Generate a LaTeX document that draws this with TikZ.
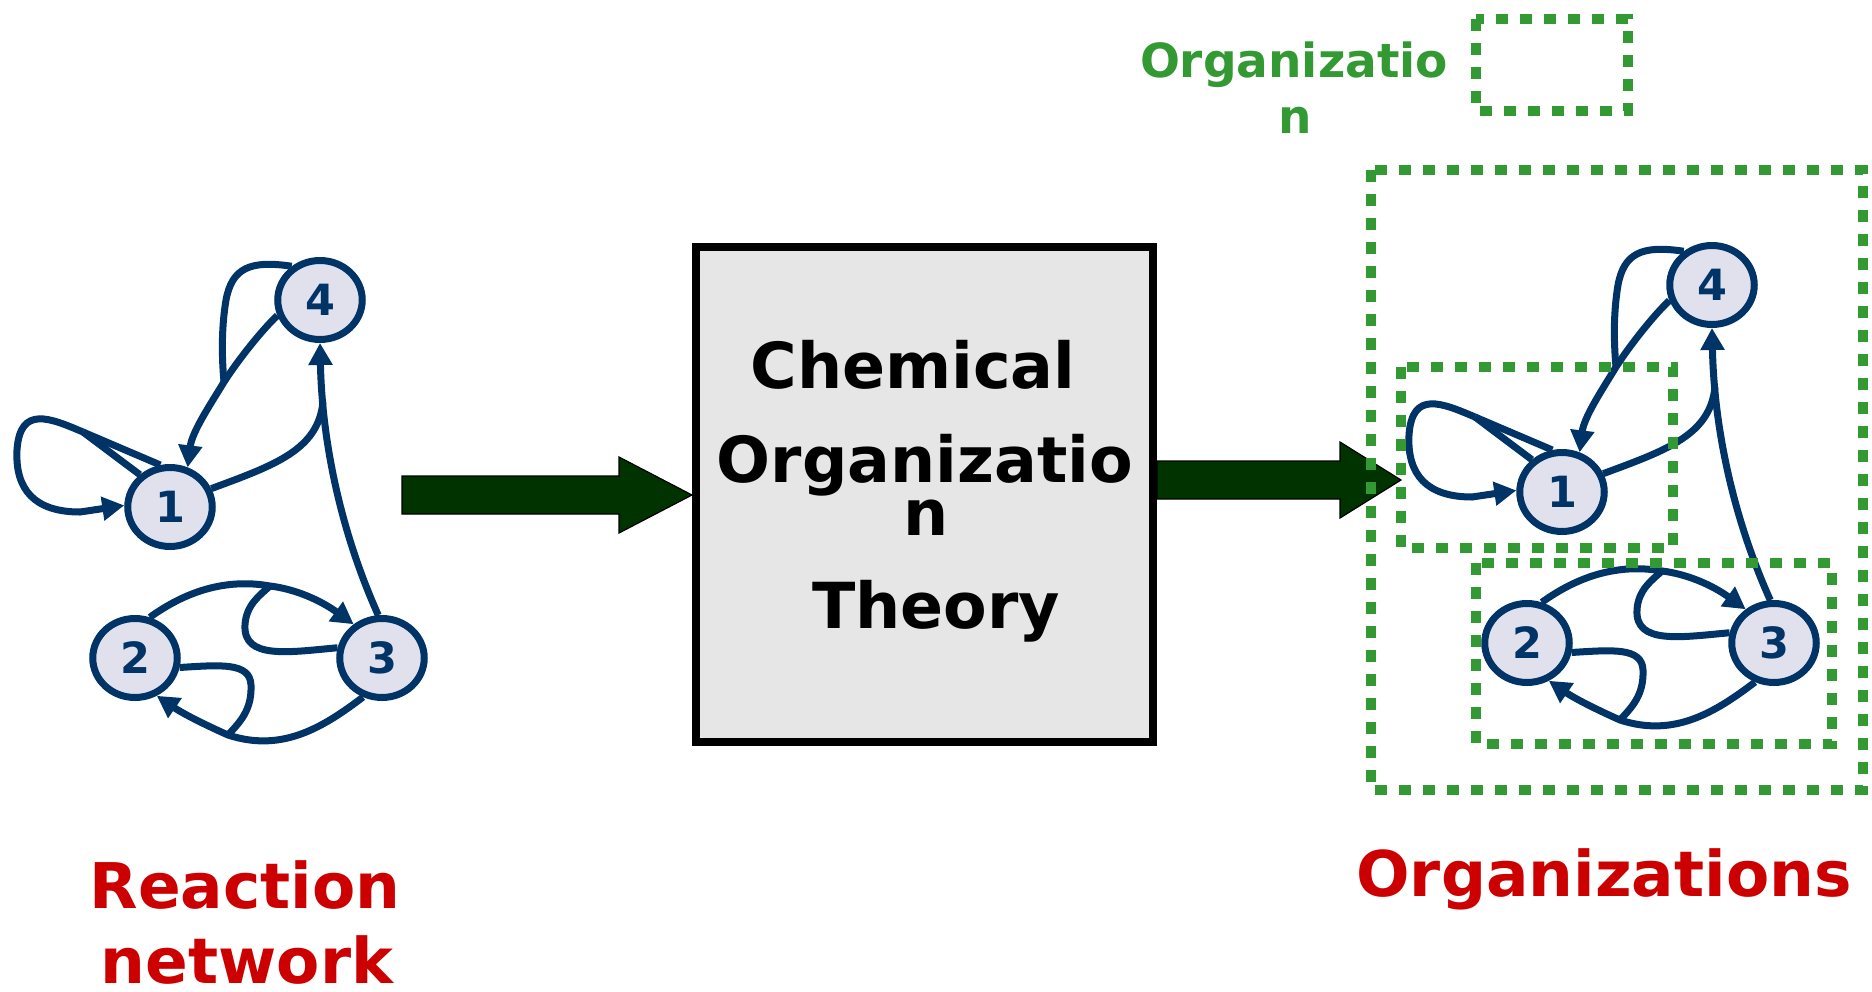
\documentclass[tikz,border=0pt]{standalone}
\usepackage{fontspec}
\setmainfont{DejaVu Sans}
\usetikzlibrary{shapes.geometric,arrows.meta}
\definecolor{netblue}{HTML}{003366}
\definecolor{nodefill}{HTML}{E1E1ED}
\definecolor{orggreen}{HTML}{339933}
\definecolor{arrowgreen}{HTML}{003300}
\definecolor{boxgray}{HTML}{E6E6E6}
\definecolor{titlered}{HTML}{CC0000}
\tikzset{
  species/.style={ellipse, draw=netblue, fill=nodefill, line width=7pt,
    minimum width=84.5pt, minimum height=79pt, inner sep=0pt, text=netblue,
    font=\fontsize{43}{43}\selectfont\bfseries},
  reac/.style={draw=netblue, line width=7pt},
  reacarrow/.style={reac, -{Triangle[length=22pt,width=23pt]}},
  orgbox/.style={draw=orggreen, line width=10pt, dash pattern=on 12pt off 12pt},
  bigarrow/.style={fill=arrowgreen, draw=black, line width=1.2pt},
  cotbox/.style={draw=black, fill=boxgray, line width=8pt, inner sep=0pt},
  cottext/.style={anchor=base, inner sep=0pt, font=\fontsize{63.5}{63.5}\selectfont\bfseries},
  redlabel/.style={anchor=base, inner sep=0pt, text=titlered, font=\fontsize{63}{63}\selectfont\bfseries},
  greenlabel/.style={anchor=base, inner sep=0pt, text=orggreen, font=\fontsize{47}{47}\selectfont\bfseries},
}
\newcommand{\mynet}[1]{%
  \node[species] (#1n4) at (320,300) {4};
  \node[species] (#1n1) at (170,507) {1};
  \node[species] (#1n2) at (135,658) {2};
  \node[species] (#1n3) at (382,658) {3};
  \coordinate (#1m41) at (224,382);
  \coordinate (#1m11) at (83,432);
  \coordinate (#1m34) at (323,402);
  \coordinate (#1m23) at (270,586);
  \coordinate (#1m32) at (228,735);
  % 4 + 4 -> 1
  \draw[reac] (#1n4.130) .. controls (250,260) and (232,268) .. (226,300)
     .. controls (221,330) and (222,360) .. (#1m41);
  \draw[reacarrow] (#1n4.200) .. controls (262,330) and (238,360) .. (#1m41)
     .. controls (210,405) and (192,432) .. (#1n1.66);
  % 1 + 1 -> 1
  \draw[reac] (#1n1.103) -- (#1m11);
  \draw[reac] (#1n1.133) -- (#1m11);
  \draw[reacarrow] (#1m11) .. controls (50,418) and (20,405) .. (17,450)
     .. controls (15,490) and (35,512) .. (80,512) -- (#1n1.178);
  % 1 + 3 -> 4
  \draw[reac] (#1n1.24) .. controls (275,465) and (318,450) .. (#1m34);
  \draw[reacarrow] (#1n3.95) .. controls (340,530) and (322,440) .. (#1n4.south);
  % 2 + 3 -> 3
  \draw[reacarrow] (#1n2.70) .. controls (185,592) and (225,578) .. (#1m23)
     .. controls (295,589) and (320,600) .. (#1n3.130);
  \draw[reac] (#1n3.167) .. controls (290,652) and (243,660) .. (245,625)
     .. controls (246,605) and (260,595) .. (#1m23);
  % 2 + 3 -> 2
  \draw[reacarrow] (#1n3.244) .. controls (320,730) and (280,752) .. (#1m32)
     .. controls (210,727) and (185,715) .. (#1n2.300);
  \draw[reac] (#1n2.-12) .. controls (220,665) and (250,662) .. (251,685)
     .. controls (252,710) and (240,722) .. (#1m32);
}
\begin{document}
\begin{tikzpicture}[x=1pt,y=-1pt]
\useasboundingbox (0,0) rectangle (1872,991);
% big arrows
\draw[bigarrow] (402,476) -- (619,476) -- (619,457) -- (692,495) -- (619,533) -- (619,514) -- (402,514) -- cycle;
\draw[bigarrow] (1157,461) -- (1340,461) -- (1340,442) -- (1401,480) -- (1340,518) -- (1340,499) -- (1157,499) -- cycle;
% central box
\node[cotbox, minimum width=457pt, minimum height=495pt] (cot) at (924.5,494.5) {};
\node[cottext] (t1) at (913,388) {Chemical};
\node[cottext] (t2) at (925,482) {Organizatio};
\node[cottext] (t3) at (926,535) {n};
\node[cottext] (t4) at (936,628) {Theory};
% networks
\mynet{L}
\begin{scope}[shift={(1392,-15)}]
  \mynet{R}
\end{scope}
% organization boxes
\draw[orgbox] (1371,170) rectangle (1863,790);
\draw[orgbox] (1401,367) rectangle (1673,548);
\draw[orgbox] (1476,563) rectangle (1832,744);
\draw[orgbox] (1476,19) rectangle (1628,111);
% labels
\node[greenlabel] (g1) at (1294,77) {Organizatio};
\node[greenlabel] (g2) at (1295,133) {n};
\node[redlabel] (r1) at (245,908) {Reaction};
\node[redlabel] (r2) at (247,983) {network};
\node[redlabel] (r3) at (1604,896) {Organizations};
\end{tikzpicture}
\end{document}
